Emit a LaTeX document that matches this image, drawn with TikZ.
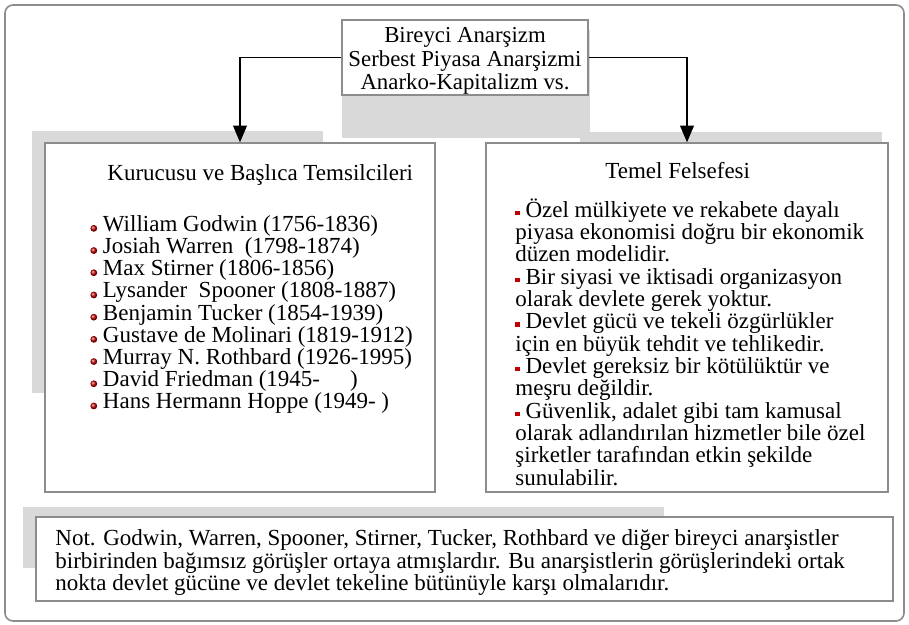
\documentclass[tikz,border=0pt]{standalone}
\usepackage{fontspec}
\setmainfont{Liberation Serif}
\usetikzlibrary{arrows}

\definecolor{shadegray}{HTML}{D9D9D9}
\definecolor{framegray}{HTML}{8C8C8C}
\definecolor{bulred}{HTML}{C00000}

\newcommand{\rdot}{\tikz[baseline=-1.5pt,x=1pt,y=1pt]\shade[ball color=bulred] (0,0) circle (1.7pt);}
\newcommand{\rsq}{\textcolor{bulred}{\rule[1pt]{2.2pt}{2.2pt}}}
\setlength{\lineskiplimit}{-8pt}

\begin{document}
\begin{tikzpicture}[x=0.5pt,y=-0.5pt]
	\tikzstyle{panel}=[draw=framegray,line width=0.7pt,fill=white,inner sep=0pt]
	\tikzstyle{txt}=[inner sep=0pt,align=left,anchor=north west]
	\tikzstyle{head}=[inner sep=0pt,anchor=base west,font=\fontsize{11.5}{12}\selectfont]
	\tikzstyle{link}=[-triangle 45,line width=0.9pt]
	\useasboundingbox (0,0) rectangle (909,625);
	\draw[framegray,line width=0.8pt,rounded corners=4pt] (5,5) rectangle (904,621);
	% gray shadows behind the boxes
	\fill[shadegray] (342,30) rectangle (590,138);
	\fill[shadegray] (32,131) rectangle (323,393);
	\fill[shadegray] (580,132) rectangle (882,150);
	\fill[shadegray] (23,507) rectangle (664,568);
	% boxes
	\node[panel,minimum width=123pt,minimum height=37.5pt,align=center,
		font=\fontsize{11.4}{11.75}\selectfont] (top) at (465,57.5)
		{\rule{0pt}{11pt}Bireyci Anarşizm\\Serbest Piyasa Anarşizmi\\Anarko-Kapitalizm vs.};
	\node[panel,minimum width=195pt,minimum height=174.5pt] (left) at (240,317.5) {};
	\node[panel,minimum width=201pt,minimum height=174.5pt] (right) at (687,317.5) {};
	\node[panel,minimum width=428.5pt,minimum height=42pt] (note) at (464.5,559) {};
	\draw[link] (top.west) -| (left.north);
	\draw[link] (top.east) -| (right.north);
	% headings
	\node[head] (lhead) at (107,181) {Kurucusu ve Başlıca Temsilcileri};
	\node[head] (rhead) at (605,179) {Temel Felsefesi};
	% texts
	\node[txt,font=\fontsize{11.5}{11.1}\selectfont] (names) at (90,215)
		{\rdot\ William Godwin (1756-1836)\\
		\rdot\ Josiah Warren \ (1798-1874)\\
		\rdot\ Max Stirner (1806-1856)\\
		\rdot\ Lysander \ Spooner (1808-1887)\\
		\rdot\ Benjamin Tucker (1854-1939)\\
		\rdot\ Gustave de Molinari (1819-1912)\\
		\rdot\ Murray N. Rothbard (1926-1995)\\
		\rdot\ David Friedman (1945-\hspace{1.3em})\\
		\rdot\ Hans Hermann Hoppe (1949- )};
	\node[txt,font=\fontsize{11.5}{11.17}\selectfont] (ideas) at (515,198)
		{\rsq\ Özel mülkiyete ve rekabete dayalı\\
		piyasa ekonomisi doğru bir ekonomik\\
		düzen modelidir.\\
		\rsq\ Bir siyasi ve iktisadi organizasyon\\
		olarak devlete gerek yoktur.\\
		\rsq\ Devlet gücü ve tekeli özgürlükler\\
		için en büyük tehdit ve tehlikedir.\\
		\rsq\ Devlet gereksiz bir kötülüktür ve\\
		meşru değildir.\\
		\rsq\ Güvenlik, adalet gibi tam kamusal\\
		olarak adlandırılan hizmetler bile özel\\
		şirketler tarafından etkin şekilde\\
		sunulabilir.};
	\node[txt,font=\fontsize{11.5}{11.4}\selectfont] (notetext) at (55,529)
		{Not. Godwin, Warren, Spooner, Stirner, Tucker, Rothbard ve diğer bireyci anarşistler\\
		birbirinden bağımsız görüşler ortaya atmışlardır. Bu anarşistlerin görüşlerindeki ortak\\
		nokta devlet gücüne ve devlet tekeline bütünüyle karşı olmalarıdır.};
\end{tikzpicture}
\end{document}
